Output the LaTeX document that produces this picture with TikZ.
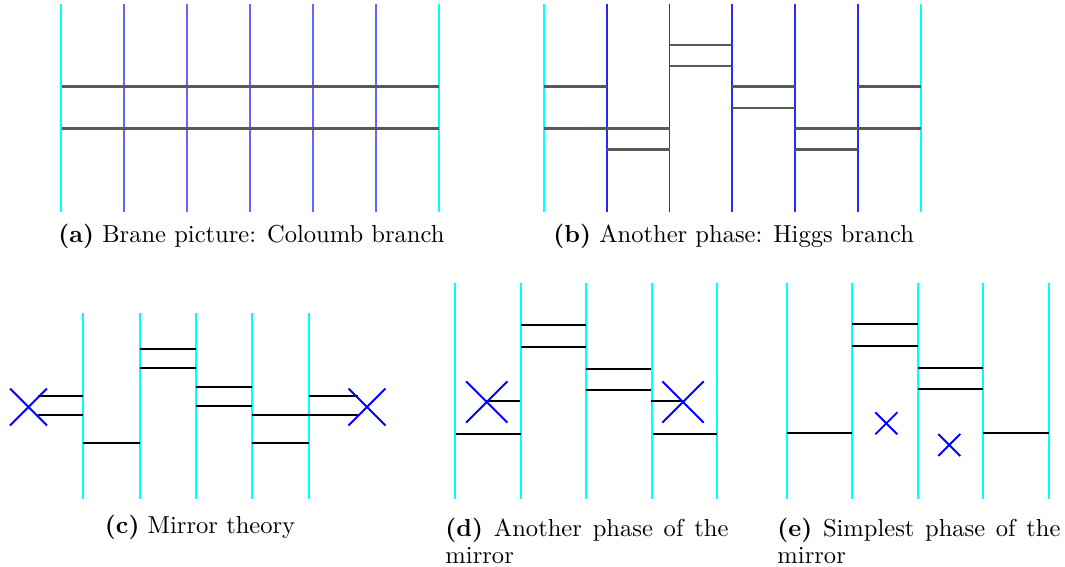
\documentclass[tikz,border=0pt]{standalone}
\definecolor{cyn}{RGB}{0,255,255}
\definecolor{blu}{RGB}{0,0,255}
\definecolor{blula}{RGB}{100,100,255}
\definecolor{blulb}{RGB}{40,40,255}
\begin{document}
\begin{tikzpicture}[x=0.4075pt,y=-0.4075pt,
  cyanline/.style={draw=cyn,line width=0.8pt},
  bla/.style={draw=blula,line width=0.8pt},
  blb/.style={draw=blulb,line width=0.8pt},
  dk/.style={draw=black!65,line width=0.84pt},
  bk/.style={draw=black,line width=0.81pt},
  crs/.style={draw=blu,line width=0.78pt},
  captxt/.style={anchor=base west,inner sep=0pt,font=\normalsize},
  capw/.style={anchor=north west,inner sep=0pt,text width=115.3pt,align=justify,font=\fontsize{10}{10.8}\selectfont}]
\useasboundingbox (0,0) rectangle (1065,567);
% (a)
\foreach \x in {60.7,439}{\draw[cyanline] (\x,4)--(\x,212);}
\foreach \x in {124,186.7,250,313,376}{\draw[bla] (\x,4)--(\x,212);}
\foreach \y in {86.5,128.5}{\draw[dk] (61.5,\y)--(439,\y);}
\node[captxt] (capa) at (58,242) {\textbf{(a)} Brane picture: Coloumb branch};
% (b)
\foreach \x in {544,921}{\draw[cyanline] (\x,4)--(\x,212);}
\foreach \x in {606.7,669.5,732,795,858}{\draw[blb] (\x,4)--(\x,212);}
\foreach \xa/\xb/\y in {669.5/732/44.6,669.5/732/65.6,732/795/86.5,732/795/107.6,
  544/606.7/86.5,544/669.5/128.5,606.7/669.5/149.5,795/921/128.5,795/858/149.5,858/921/86.5}
  {\draw[dk] (\xa,\y)--(\xb,\y);}
\node[captxt] (capb) at (553,242) {\textbf{(b)} Another phase: Higgs branch};
% (c)
\foreach \x in {83.3,139.7,196,252.3,308.7}{\draw[cyanline] (\x,313)--(\x,499);}
\foreach \xa/\xb/\y in {139.7/196/349.2,139.7/196/368.3,196/252.3/387,196/252.3/406,
  38/83.3/396.2,38/83.3/415.3,83.3/139.7/443.3,252.3/358/415.3,252.3/308.7/443.3,308.7/358/396.2}
  {\draw[bk] (\xa,\y)--(\xb,\y);}
\foreach \cx/\cy/\r in {28.5/407/18.5,367/407/18.5}
  {\draw[crs] (\cx-\r,\cy-\r)--(\cx+\r,\cy+\r) (\cx-\r,\cy+\r)--(\cx+\r,\cy-\r);}
\node[captxt] (capc) at (104.5,533) {\textbf{(c)} Mirror theory};
% (d)
\foreach \x in {455,521,586.3,652,717}{\draw[cyanline] (\x,283)--(\x,499);}
\foreach \xa/\xb/\y in {521/586.3/325,521/586.3/347,586.3/651/368.7,586.3/651/390.3,
  486/520/401.3,651/684/401.3,456/521/434,653/717/434}
  {\draw[bk] (\xa,\y)--(\xb,\y);}
\foreach \cx/\cy/\r in {486.7/402/20.7,683/402/20.7}
  {\draw[crs] (\cx-\r,\cy-\r)--(\cx+\r,\cy+\r) (\cx-\r,\cy+\r)--(\cx+\r,\cy-\r);}
\node[capw] (capd) at (445,518) {\textbf{(d)} Another phase of the \mbox{mirror}};
% (e)
\foreach \x in {786.7,852.3,918,983.3,1049}{\draw[cyanline] (\x,283)--(\x,499);}
\foreach \xa/\xb/\y in {852.3/918/323.7,852.3/918/345.7,918/983.3/367.7,918/983.3/389.3,
  786.7/852.3/433.3,983.3/1049/433.3}
  {\draw[bk] (\xa,\y)--(\xb,\y);}
\foreach \cx/\cy/\r in {886.3/423.3/11,949.3/445/11}
  {\draw[crs] (\cx-\r,\cy-\r)--(\cx+\r,\cy+\r) (\cx-\r,\cy+\r)--(\cx+\r,\cy-\r);}
\node[capw] (cape) at (777,518) {\textbf{(e)} Simplest phase of the \mbox{mirror}};
\end{tikzpicture}
\end{document}
